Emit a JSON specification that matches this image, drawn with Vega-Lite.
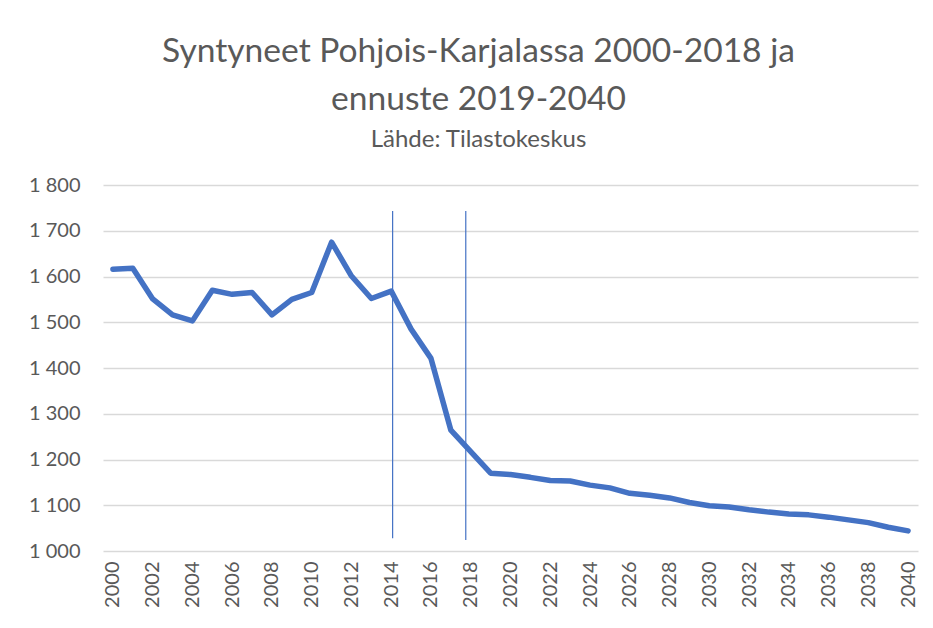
{
  "$schema": "https://vega.github.io/schema/vega-lite/v6.json",
  "width": 815,
  "height": 366,
  "autosize": {"type": "none"},
  "padding": {"left": 103, "top": 185, "right": 15, "bottom": 77},
  "background": "white",
  "config": {
    "view": {"stroke": null},
    "font": "Lato"
  },
  "title": {
    "text": ["Syntyneet Pohjois-Karjalassa 2000-2018 ja", "ennuste 2019-2040"],
    "subtitle": "Lähde: Tilastokeskus",
    "anchor": "middle",
    "frame": "group",
    "dx": -32,
    "offset": 23,
    "font": "Lato",
    "fontSize": 33.6,
    "fontWeight": "normal",
    "color": "#595959",
    "lineHeight": 48,
    "subtitleFont": "Lato",
    "subtitleFontSize": 24,
    "subtitleColor": "#595959",
    "subtitlePadding": 11
  },
  "datasets": {
    "births": [
      {"year": 2000, "births": 1616},
      {"year": 2001, "births": 1618},
      {"year": 2002, "births": 1551},
      {"year": 2003, "births": 1516},
      {"year": 2004, "births": 1503},
      {"year": 2005, "births": 1570},
      {"year": 2006, "births": 1561},
      {"year": 2007, "births": 1565},
      {"year": 2008, "births": 1516},
      {"year": 2009, "births": 1550},
      {"year": 2010, "births": 1565},
      {"year": 2011, "births": 1675},
      {"year": 2012, "births": 1601},
      {"year": 2013, "births": 1552},
      {"year": 2014, "births": 1568},
      {"year": 2015, "births": 1485},
      {"year": 2016, "births": 1421},
      {"year": 2017, "births": 1264},
      {"year": 2018, "births": 1217},
      {"year": 2019, "births": 1170},
      {"year": 2020, "births": 1167},
      {"year": 2021, "births": 1161},
      {"year": 2022, "births": 1154},
      {"year": 2023, "births": 1153},
      {"year": 2024, "births": 1144},
      {"year": 2025, "births": 1138},
      {"year": 2026, "births": 1126},
      {"year": 2027, "births": 1122},
      {"year": 2028, "births": 1116},
      {"year": 2029, "births": 1106},
      {"year": 2030, "births": 1099},
      {"year": 2031, "births": 1096},
      {"year": 2032, "births": 1090},
      {"year": 2033, "births": 1085},
      {"year": 2034, "births": 1081},
      {"year": 2035, "births": 1079},
      {"year": 2036, "births": 1074},
      {"year": 2037, "births": 1068},
      {"year": 2038, "births": 1062},
      {"year": 2039, "births": 1052},
      {"year": 2040, "births": 1044}
    ],
    "markers": [
      {"year": 2014.07, "top": 1743, "bottom": 1028},
      {"year": 2017.75, "top": 1743, "bottom": 1024}
    ]
  },
  "layer": [
    {
      "data": {"name": "births"},
      "mark": {"type": "line", "color": "#4472C4", "strokeWidth": 5.5, "strokeCap": "round", "strokeJoin": "round"},
      "encoding": {
        "x": {
          "field": "year",
          "type": "quantitative",
          "scale": {"domain": [1999.5, 2040.5], "nice": false, "zero": false},
          "axis": {
            "title": null,
            "values": [2000, 2002, 2004, 2006, 2008, 2010, 2012, 2014, 2016, 2018, 2020, 2022, 2024, 2026, 2028, 2030, 2032, 2034, 2036, 2038, 2040],
            "format": "d",
            "labelAngle": -90,
            "labelAlign": "right",
            "labelBaseline": "middle",
            "labelFontSize": 20,
            "labelColor": "#595959",
            "labelPadding": 10,
            "ticks": false,
            "domain": false,
            "grid": false,
            "labelFlush": false,
            "labelOverlap": false
          }
        },
        "y": {
          "field": "births",
          "type": "quantitative",
          "scale": {"domain": [1000, 1800], "nice": false, "zero": false},
          "axis": {
            "title": null,
            "values": [1000, 1100, 1200, 1300, 1400, 1500, 1600, 1700, 1800],
            "labelExpr": "replace(format(datum.value, ','), ',', ' ')",
            "labelFontSize": 20,
            "labelColor": "#595959",
            "labelPadding": 23,
            "ticks": false,
            "domain": false,
            "grid": true,
            "gridColor": "#D9D9D9",
            "gridWidth": 1.3
          }
        }
      }
    },
    {
      "data": {"name": "markers"},
      "mark": {"type": "rule", "color": "#4472C4", "strokeWidth": 1.2},
      "encoding": {
        "x": {"field": "year", "type": "quantitative"},
        "y": {"field": "top", "type": "quantitative"},
        "y2": {"field": "bottom"}
      }
    }
  ]
}
